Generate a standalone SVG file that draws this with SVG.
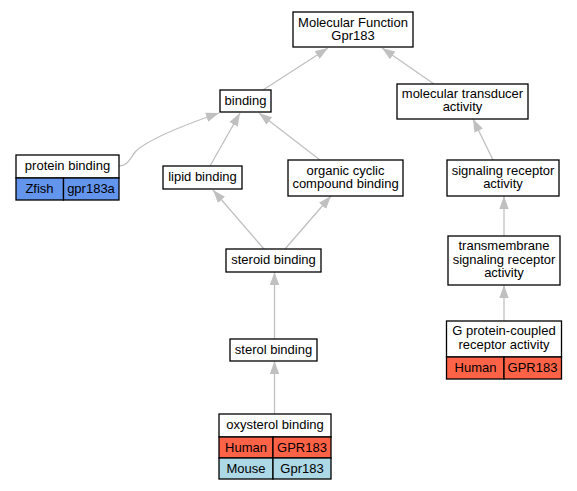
<svg xmlns="http://www.w3.org/2000/svg" width="577" height="491" viewBox="0 0 577 491">
<defs>
<style>
text{font-family:"Liberation Sans",Arial,sans-serif;font-size:13px;fill:#000;text-anchor:middle}
.b{fill:#fff;stroke:#000;stroke-width:1.3}
.h{fill:#ff6347;stroke:#000;stroke-width:1.3}
.m{fill:#add8e6;stroke:#000;stroke-width:1.3}
.z{fill:#6495ed;stroke:#000;stroke-width:1.3}
.e{fill:none;stroke:#c0c0c0;stroke-width:1.3;marker-end:url(#ah)}
</style>
<marker id="ah" markerWidth="13" markerHeight="10" refX="13" refY="5" orient="auto" markerUnits="userSpaceOnUse">
<path d="M0,0.3 L13,5 L0,9.7 z" fill="#c0c0c0"/>
</marker>
</defs>
<g id="edges">
<path class="e" d="M263,90 L328,48"/>
<path class="e" d="M434,84 L382,48"/>
<path class="e" d="M119,166 C128,166 130,158 136,151 C150,138 190,123 219,113"/>
<path class="e" d="M210,166 L240,113"/>
<path class="e" d="M320,160 L259,113"/>
<path class="e" d="M264,249 L213,190"/>
<path class="e" d="M285,249 L331,196"/>
<path class="e" d="M274.5,339 L274.5,272"/>
<path class="e" d="M274.5,414 L274.5,361"/>
<path class="e" d="M493,160 L473,119"/>
<path class="e" d="M504,236 L504,196"/>
<path class="e" d="M504,321 L504,285"/>
</g>
<g id="mf">
<rect class="b" x="293" y="12" width="120" height="35"/>
<text x="353" y="27">Molecular Function</text>
<text x="353" y="40">Gpr183</text>
</g>
<g id="binding">
<rect class="b" x="220" y="90" width="51" height="22"/>
<text x="245.5" y="105">binding</text>
</g>
<g id="transducer">
<rect class="b" x="397" y="84" width="131" height="35"/>
<text x="462.5" y="98">molecular transducer</text>
<text x="462.5" y="111">activity</text>
</g>
<g id="protein">
<rect class="b" x="16" y="155" width="103" height="23"/>
<text x="67.5" y="170">protein binding</text>
<rect class="z" x="16" y="178" width="47.5" height="22"/>
<rect class="z" x="63.5" y="178" width="55.5" height="22"/>
<text x="39.5" y="192.5">Zfish</text>
<text x="91" y="192.5">gpr183a</text>
</g>
<g id="lipid">
<rect class="b" x="163" y="166" width="79" height="23"/>
<text x="202.5" y="181">lipid binding</text>
</g>
<g id="organic">
<rect class="b" x="288" y="160" width="115" height="36"/>
<text x="345.5" y="175">organic cyclic</text>
<text x="345.5" y="188">compound binding</text>
</g>
<g id="signaling">
<rect class="b" x="447" y="160" width="112" height="36"/>
<text x="503" y="175">signaling receptor</text>
<text x="503" y="188">activity</text>
</g>
<g id="steroid">
<rect class="b" x="226" y="249" width="95" height="23"/>
<text x="273.5" y="264">steroid binding</text>
</g>
<g id="transmembrane">
<rect class="b" x="448" y="236" width="112" height="49"/>
<text x="504" y="250">transmembrane</text>
<text x="504" y="264">signaling receptor</text>
<text x="504" y="277">activity</text>
</g>
<g id="sterol">
<rect class="b" x="230" y="339" width="87" height="22"/>
<text x="273.5" y="354">sterol binding</text>
</g>
<g id="gpcr">
<rect class="b" x="446.5" y="321" width="115" height="36"/>
<text x="504" y="335">G protein-coupled</text>
<text x="504" y="349">receptor activity</text>
<rect class="h" x="446.5" y="357" width="57.5" height="22"/>
<rect class="h" x="504" y="357" width="57.5" height="22"/>
<text x="475.5" y="371.5">Human</text>
<text x="532.5" y="371.5">GPR183</text>
</g>
<g id="oxysterol">
<rect class="b" x="219" y="414" width="112" height="23"/>
<text x="275" y="429">oxysterol binding</text>
<rect class="h" x="219" y="437" width="54" height="21"/>
<rect class="h" x="273" y="437" width="58" height="21"/>
<text x="246" y="451.5">Human</text>
<text x="302" y="451.5">GPR183</text>
<rect class="m" x="219" y="458" width="54" height="21"/>
<rect class="m" x="273" y="458" width="58" height="21"/>
<text x="246" y="472.5">Mouse</text>
<text x="302" y="472.5">Gpr183</text>
</g>
</svg>
